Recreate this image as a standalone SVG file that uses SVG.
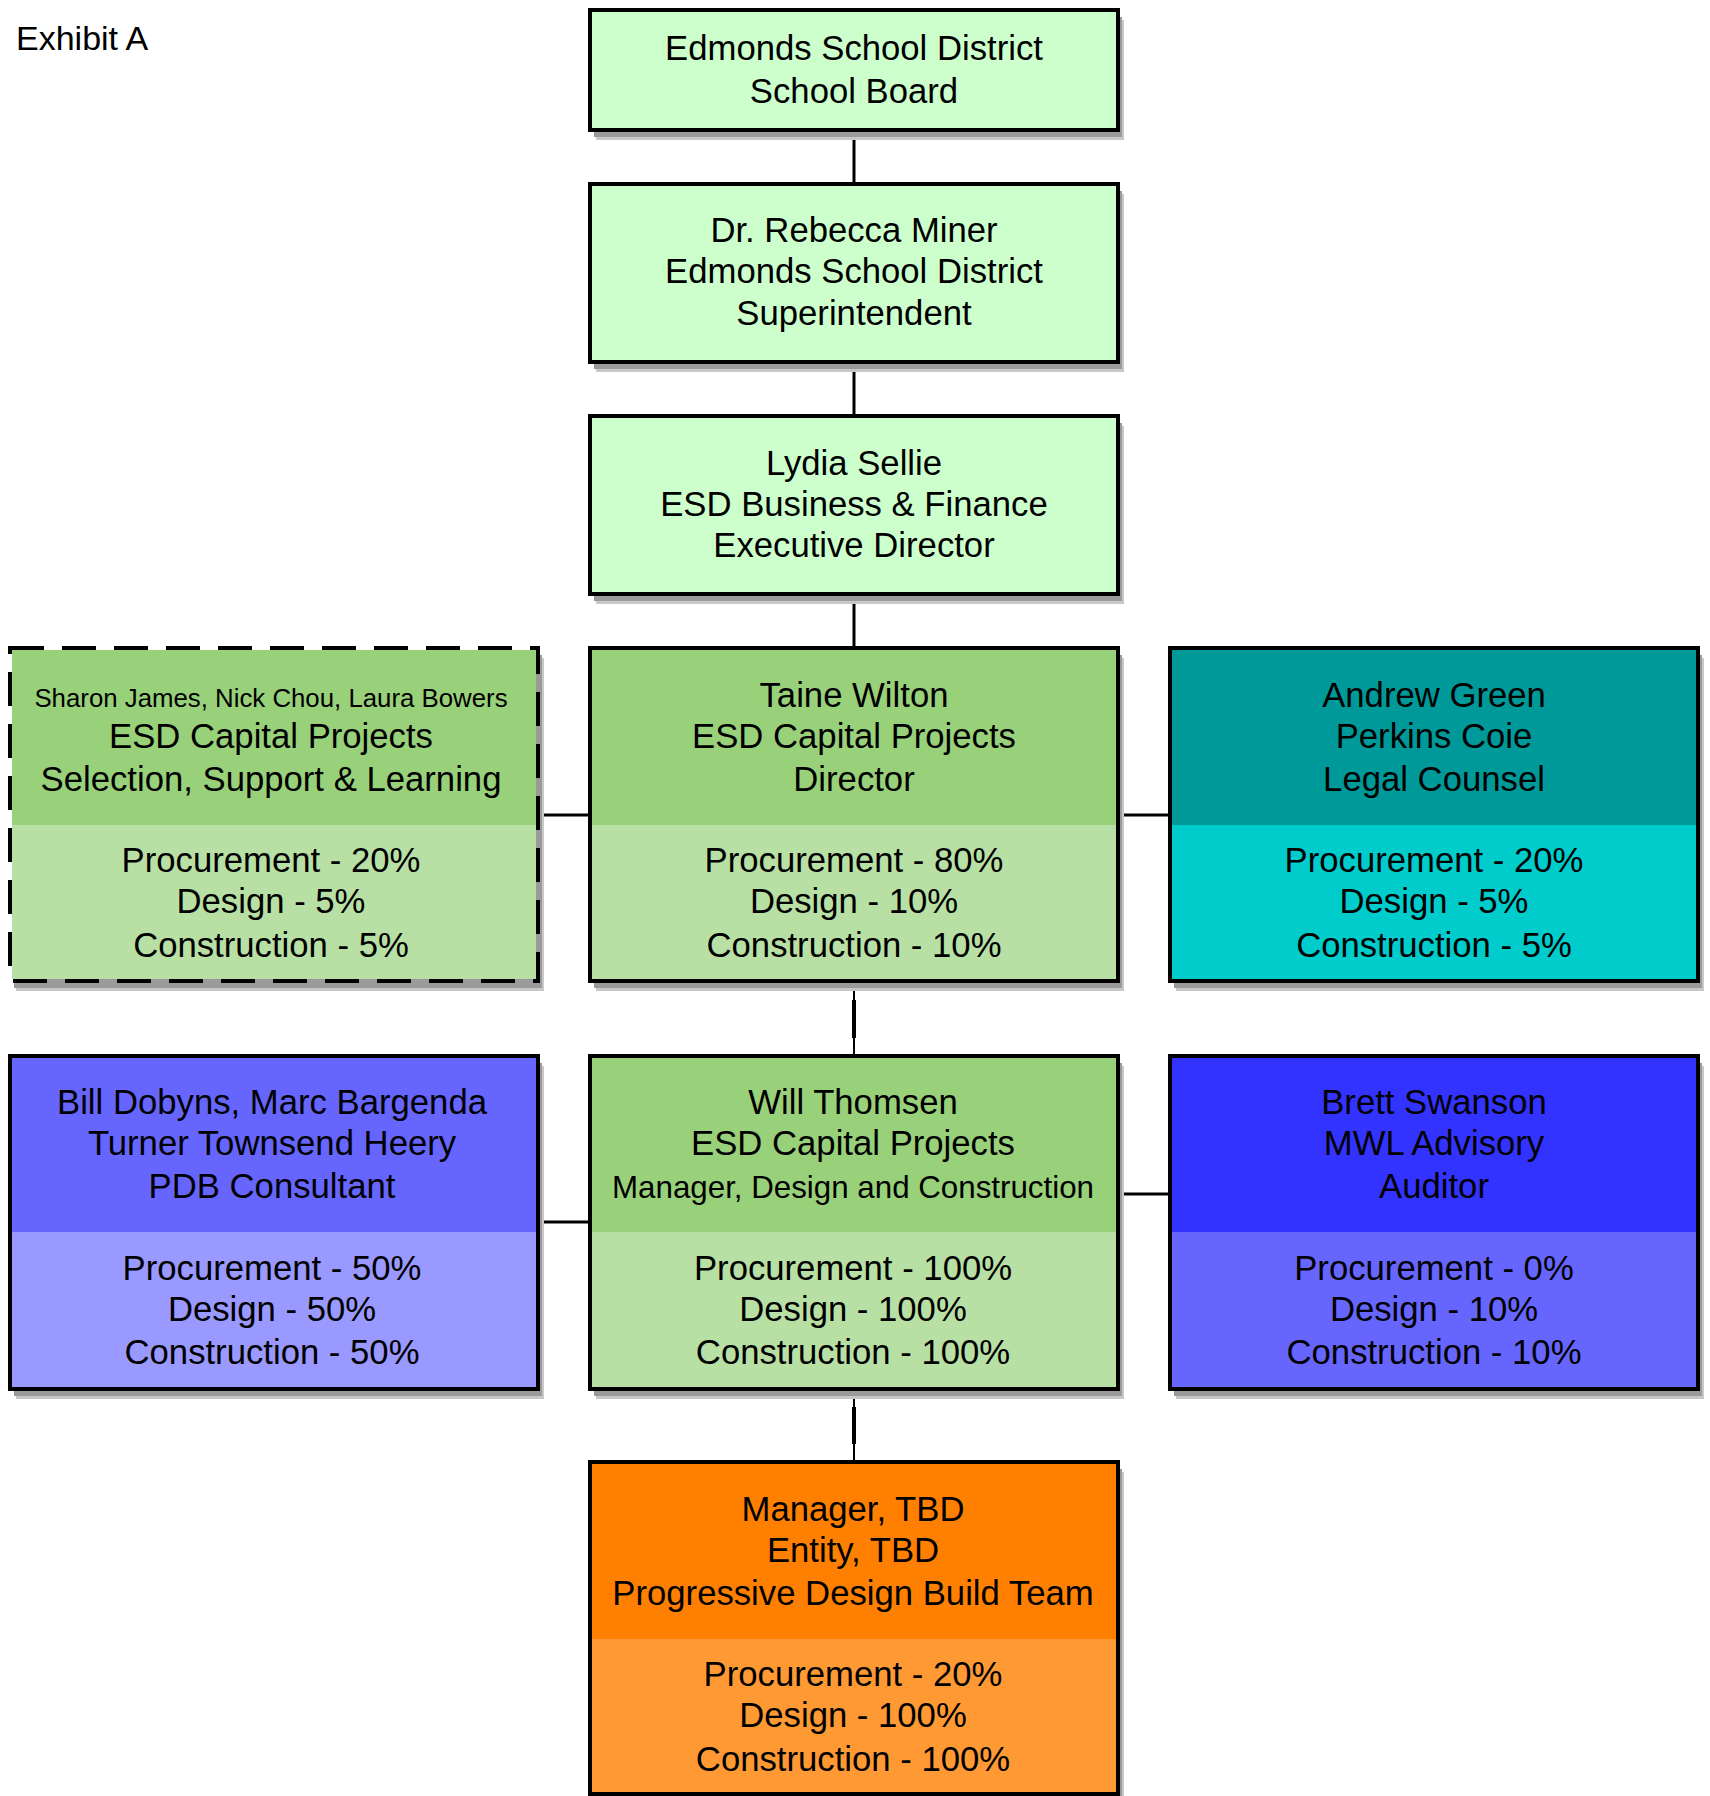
<svg xmlns="http://www.w3.org/2000/svg" width="1710" height="1796" viewBox="0 0 1710 1796">
<style>
text{font-family:"Liberation Sans",Arial,sans-serif;font-size:34.7px;fill:#000;text-anchor:middle}
.sm{font-size:25.8px}
.md{font-size:31.3px}
.ttl{text-anchor:start;font-size:34px}
.sd1{fill:#c8c8c8}
.sd2{fill:#9a9a9a}
.bd{fill:none;stroke:#000;stroke-width:4}
.dash{fill:none;stroke:#000;stroke-width:4;stroke-dasharray:34 18}
.cn{stroke:#000;stroke-width:3;fill:none}
.cn2{stroke:#000;stroke-width:2;fill:none}
.cn4{stroke:#000;stroke-width:4;fill:none}
</style>
<rect width="1710" height="1796" fill="#fff"/>
<text class="ttl" x="16" y="50">Exhibit A</text>

<g id="connectors">
<line class="cn" x1="854" y1="130" x2="854" y2="184"/>
<line class="cn" x1="854" y1="362" x2="854" y2="416"/>
<line class="cn" x1="854" y1="594" x2="854" y2="648"/>
<line class="cn2" x1="854" y1="981" x2="854" y2="1056"/>
<line class="cn4" x1="854" y1="1000" x2="854" y2="1038"/>
<line class="cn2" x1="854" y1="1389" x2="854" y2="1462"/>
<line class="cn4" x1="854" y1="1407" x2="854" y2="1444"/>
<line class="cn" x1="538" y1="815" x2="590" y2="815"/>
<line class="cn" x1="1118" y1="815" x2="1170" y2="815"/>
<line class="cn" x1="538" y1="1222" x2="590" y2="1222"/>
<line class="cn" x1="1118" y1="1194" x2="1170" y2="1194"/>
</g>

<g id="school-board">
<rect class="sd1" x="596" y="20" width="528" height="120"/>
<rect class="sd2" x="594" y="17" width="528" height="120"/>
<rect x="590" y="10" width="528" height="120" fill="#ccffcc"/>
<rect class="bd" x="590" y="10" width="528" height="120"/>
<text x="854" y="60">Edmonds School District</text>
<text x="854" y="103">School Board</text>
</g>

<g id="superintendent">
<rect class="sd1" x="596" y="194" width="528" height="178"/>
<rect class="sd2" x="594" y="191" width="528" height="178"/>
<rect x="590" y="184" width="528" height="178" fill="#ccffcc"/>
<rect class="bd" x="590" y="184" width="528" height="178"/>
<text x="854" y="242">Dr. Rebecca Miner</text>
<text x="854" y="283">Edmonds School District</text>
<text x="854" y="325">Superintendent</text>
</g>

<g id="business-finance">
<rect class="sd1" x="596" y="426" width="528" height="178"/>
<rect class="sd2" x="594" y="423" width="528" height="178"/>
<rect x="590" y="416" width="528" height="178" fill="#ccffcc"/>
<rect class="bd" x="590" y="416" width="528" height="178"/>
<text x="854" y="475">Lydia Sellie</text>
<text x="854" y="516">ESD Business &amp; Finance</text>
<text x="854" y="557">Executive Director</text>
</g>

<g id="selection-support">
<rect class="sd1" x="16" y="658" width="528" height="333"/>
<rect class="sd2" x="14" y="655" width="528" height="333"/>
<rect x="12" y="650" width="524" height="177" fill="#99d17a"/>
<rect x="12" y="825" width="524" height="154" fill="#b8e0a5"/>
<rect class="dash" x="10" y="648" width="528" height="333"/>
<text class="sm" x="271" y="707">Sharon James, Nick Chou, Laura Bowers</text>
<text x="271" y="748">ESD Capital Projects</text>
<text x="271" y="791">Selection, Support &amp; Learning</text>
<text x="271" y="872">Procurement - 20%</text>
<text x="271" y="913">Design - 5%</text>
<text x="271" y="957">Construction - 5%</text>
</g>

<g id="director">
<rect class="sd1" x="596" y="658" width="528" height="333"/>
<rect class="sd2" x="594" y="655" width="528" height="333"/>
<rect x="590" y="648" width="528" height="177" fill="#99d17a"/>
<rect x="590" y="825" width="528" height="156" fill="#b8e0a5"/>
<rect class="bd" x="590" y="648" width="528" height="333"/>
<text x="854" y="707">Taine Wilton</text>
<text x="854" y="748">ESD Capital Projects</text>
<text x="854" y="791">Director</text>
<text x="854" y="872">Procurement - 80%</text>
<text x="854" y="913">Design - 10%</text>
<text x="854" y="957">Construction - 10%</text>
</g>

<g id="legal-counsel">
<rect class="sd1" x="1176" y="658" width="528" height="333"/>
<rect class="sd2" x="1174" y="655" width="528" height="333"/>
<rect x="1170" y="648" width="528" height="177" fill="#009999"/>
<rect x="1170" y="825" width="528" height="156" fill="#00cccc"/>
<rect class="bd" x="1170" y="648" width="528" height="333"/>
<text x="1434" y="707">Andrew Green</text>
<text x="1434" y="748">Perkins Coie</text>
<text x="1434" y="791">Legal Counsel</text>
<text x="1434" y="872">Procurement - 20%</text>
<text x="1434" y="913">Design - 5%</text>
<text x="1434" y="957">Construction - 5%</text>
</g>

<g id="pdb-consultant">
<rect class="sd1" x="16" y="1066" width="528" height="333"/>
<rect class="sd2" x="14" y="1063" width="528" height="333"/>
<rect x="10" y="1056" width="528" height="176" fill="#6666ff"/>
<rect x="10" y="1232" width="528" height="157" fill="#9999ff"/>
<rect class="bd" x="10" y="1056" width="528" height="333"/>
<text x="272" y="1114">Bill Dobyns, Marc Bargenda</text>
<text x="272" y="1155">Turner Townsend Heery</text>
<text x="272" y="1198">PDB Consultant</text>
<text x="272" y="1280">Procurement - 50%</text>
<text x="272" y="1321">Design - 50%</text>
<text x="272" y="1364">Construction - 50%</text>
</g>

<g id="manager-design-construction">
<rect class="sd1" x="596" y="1066" width="528" height="333"/>
<rect class="sd2" x="594" y="1063" width="528" height="333"/>
<rect x="590" y="1056" width="528" height="176" fill="#99d17a"/>
<rect x="590" y="1232" width="528" height="157" fill="#b8e0a5"/>
<rect class="bd" x="590" y="1056" width="528" height="333"/>
<text x="853" y="1114">Will Thomsen</text>
<text x="853" y="1155">ESD Capital Projects</text>
<text class="md" x="853" y="1198">Manager, Design and Construction</text>
<text x="853" y="1280">Procurement - 100%</text>
<text x="853" y="1321">Design - 100%</text>
<text x="853" y="1364">Construction - 100%</text>
</g>

<g id="auditor">
<rect class="sd1" x="1176" y="1066" width="528" height="333"/>
<rect class="sd2" x="1174" y="1063" width="528" height="333"/>
<rect x="1170" y="1056" width="528" height="176" fill="#3333ff"/>
<rect x="1170" y="1232" width="528" height="157" fill="#6666ff"/>
<rect class="bd" x="1170" y="1056" width="528" height="333"/>
<text x="1434" y="1114">Brett Swanson</text>
<text x="1434" y="1155">MWL Advisory</text>
<text x="1434" y="1198">Auditor</text>
<text x="1434" y="1280">Procurement - 0%</text>
<text x="1434" y="1321">Design - 10%</text>
<text x="1434" y="1364">Construction - 10%</text>
</g>

<g id="pdb-team">
<rect class="sd1" x="596" y="1472" width="528" height="333"/>
<rect class="sd2" x="594" y="1469" width="528" height="333"/>
<rect x="590" y="1462" width="528" height="177" fill="#ff8000"/>
<rect x="590" y="1639" width="528" height="155" fill="#ff9933"/>
<rect class="bd" x="590" y="1462" width="528" height="332"/>
<text x="853" y="1521">Manager, TBD</text>
<text x="853" y="1562">Entity, TBD</text>
<text x="853" y="1605">Progressive Design Build Team</text>
<text x="853" y="1686">Procurement - 20%</text>
<text x="853" y="1727">Design - 100%</text>
<text x="853" y="1771">Construction - 100%</text>
</g>
</svg>
